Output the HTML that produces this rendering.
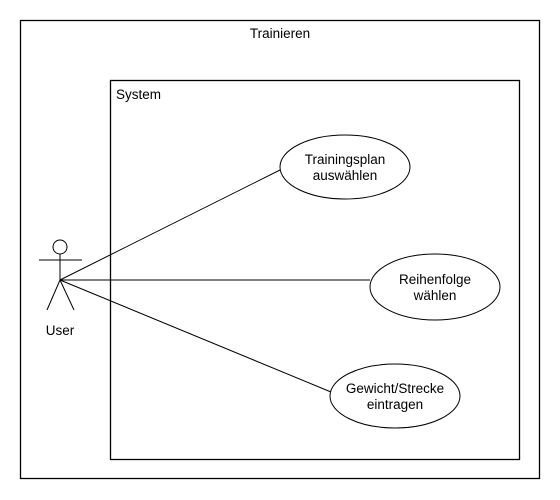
<!DOCTYPE html>
<html><head><meta charset="utf-8"><style>
html,body{margin:0;padding:0;background:#fff;}
svg{display:block;}
text{font-family:"Liberation Sans",Arial,sans-serif;font-size:13.5px;fill:#000;}
</style></head><body>
<svg width="560" height="500" viewBox="0 0 560 500" xmlns="http://www.w3.org/2000/svg">
<rect x="20.5" y="20.5" width="519" height="458" fill="none" stroke="#000" stroke-width="1.3"/>
<text x="280" y="38" text-anchor="middle">Trainieren</text>
<rect x="110.5" y="80.5" width="409" height="379" fill="none" stroke="#000" stroke-width="1.3"/>
<text x="116" y="99">System</text>
<g stroke="#000" stroke-width="1" fill="none">
<circle cx="60" cy="247" r="7" fill="#fff"/>
<line x1="60" y1="254" x2="60" y2="280"/>
<line x1="39" y1="260" x2="82" y2="260"/>
<line x1="60" y1="280" x2="47" y2="310"/>
<line x1="60" y1="280" x2="74" y2="310"/>
<line x1="60" y1="280" x2="280" y2="170"/>
<line x1="60" y1="280" x2="370" y2="280"/>
<line x1="60" y1="280" x2="331" y2="392"/>
<ellipse cx="345" cy="167" rx="65" ry="32" fill="#fff"/>
<ellipse cx="435" cy="287" rx="65" ry="33" fill="#fff"/>
<ellipse cx="395" cy="396" rx="65" ry="32" fill="#fff"/>
</g>
<text x="60" y="335" text-anchor="middle">User</text>
<text x="345" y="164" text-anchor="middle">Trainingsplan</text>
<text x="345" y="180" text-anchor="middle">auswählen</text>
<text x="435" y="284" text-anchor="middle">Reihenfolge</text>
<text x="435" y="300" text-anchor="middle">wählen</text>
<text x="395" y="393" text-anchor="middle">Gewicht/Strecke</text>
<text x="395" y="409" text-anchor="middle">eintragen</text>
</svg>
</body></html>
